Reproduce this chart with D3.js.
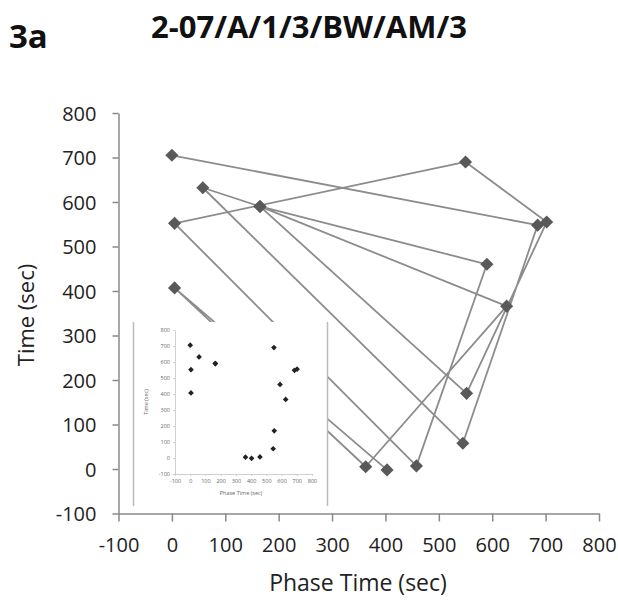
<!DOCTYPE html>
<html><head><meta charset="utf-8">
<script src="https://cdn.jsdelivr.net/npm/d3@7"></script>
<style>body{margin:0;background:#fff}</style>
</head><body><svg id="c" width="618" height="603"></svg>
<script>
// Data rows in recorded order (consecutive rows are joined by a line)
const phaseTime = [0, 685, 545, 58, 165, 552, 702, 550, 5, 458, 590, 165, 627, 363, 5, 403];
const timeSec   = [705, 548, 58, 632, 590, 170, 555, 690, 552, 7, 460, 590, 366, 5, 407, -2];
const xTickValues = [-100, 0, 100, 200, 300, 400, 500, 600, 700, 800];
const yTickValues = [-100, 0, 100, 200, 300, 400, 500, 600, 700, 800];
const chartTitle = "2-07/A/1/3/BW/AM/3";
const panelLabel = "3a";
const xTitle = "Phase Time (sec)";
const yTitle = "Time (sec)";

const rows = phaseTime.map((p, i) => ({x: p, y: timeSec[i]}));
const svg = d3.select("#c");
const font = "'Open Sans', sans-serif";
const fmt = d => String(d);

svg.append("rect").attr("width", 618).attr("height", 603).attr("fill", "#fff");

// titles
svg.append("text").attr("x", 9).attr("y", 48).text(panelLabel)
  .attr("font-family", font).attr("font-weight", 700).attr("font-size", 33).attr("fill", "#111");
svg.append("text").attr("x", 309).attr("y", 38).attr("text-anchor", "middle").text(chartTitle)
  .attr("font-family", font).attr("font-weight", 700).attr("font-size", 31).attr("fill", "#111");

// main scales
const x = d3.scaleLinear().domain([-100, 800]).range([118.5, 599]);
const y = d3.scaleLinear().domain([-100, 800]).range([513.5, 113]);

const axisColor = "#8a8a8a";
const gx = svg.append("g").attr("transform", `translate(0,${y(-100)})`)
  .call(d3.axisBottom(x).tickValues(xTickValues).tickSize(8).tickSizeOuter(0).tickPadding(16).tickFormat(fmt));
const gy = svg.append("g").attr("transform", `translate(${x(-100)},0)`)
  .call(d3.axisLeft(y).tickValues(yTickValues).tickSize(6).tickSizeOuter(0).tickPadding(16).tickFormat(fmt));
[gx, gy].forEach(g => {
  g.select(".domain").attr("stroke", axisColor).attr("stroke-width", 1.5);
  g.selectAll(".tick line").attr("stroke", axisColor).attr("stroke-width", 1.5);
  g.selectAll(".tick text").attr("font-family", font).attr("font-size", 20).attr("fill", "#222");
});
gy.selectAll(".tick text").attr("dy", "0.35em");

svg.append("text").attr("x", 358).attr("y", 591).attr("text-anchor", "middle").text(xTitle)
  .attr("font-family", font).attr("font-size", 23).attr("fill", "#222");
svg.append("text").attr("transform", "translate(34,315) rotate(-90)").attr("text-anchor", "middle").text(yTitle)
  .attr("font-family", font).attr("font-size", 22).attr("fill", "#222");

// connecting lines
const line = d3.line().x(d => x(d.x)).y(d => y(d.y));
svg.append("path").datum(rows).attr("d", line)
  .attr("fill", "none").attr("stroke", "#8c8c8c").attr("stroke-width", 1.8).attr("stroke-linejoin", "round");

// diamond markers
const diamond = d3.symbol().type(d3.symbolSquare).size(86);
svg.append("g").selectAll("path").data(rows).join("path")
  .attr("d", diamond)
  .attr("transform", d => `translate(${x(d.x)},${y(d.y)}) rotate(45)`)
  .attr("fill", "#595959");

// inset
const inset = svg.append("g");
inset.append("rect").attr("x", 133).attr("y", 322).attr("width", 194).attr("height", 186).attr("fill", "#fff");
inset.append("line").attr("x1", 133.5).attr("x2", 133.5).attr("y1", 322).attr("y2", 506).attr("stroke", "#bbb").attr("stroke-width", 1.5);
inset.append("line").attr("x1", 327.5).attr("x2", 327.5).attr("y1", 322).attr("y2", 506).attr("stroke", "#bbb").attr("stroke-width", 1.5);

const ix = d3.scaleLinear().domain([-100, 800]).range([175, 312]);
const iy = d3.scaleLinear().domain([-100, 800]).range([474, 330]);
const igx = inset.append("g").attr("transform", `translate(0,${iy(-100)})`)
  .call(d3.axisBottom(ix).tickValues(xTickValues).tickSize(2).tickSizeOuter(0).tickPadding(3).tickFormat(fmt));
const igy = inset.append("g").attr("transform", `translate(${ix(-100)},0)`)
  .call(d3.axisLeft(iy).tickValues(yTickValues).tickSize(2).tickSizeOuter(0).tickPadding(3).tickFormat(fmt));
[igx, igy].forEach(g => {
  g.select(".domain").attr("stroke", "#c4c4c4").attr("stroke-width", 0.8);
  g.selectAll(".tick line").attr("stroke", "#c4c4c4").attr("stroke-width", 0.8);
  g.selectAll(".tick text").attr("font-family", font).attr("font-size", 5.5).attr("fill", "#666");
});
inset.append("text").attr("x", 241).attr("y", 495).attr("text-anchor", "middle").text(xTitle)
  .attr("font-family", font).attr("font-size", 5.5).attr("fill", "#666");
inset.append("text").attr("transform", "translate(148,402) rotate(-90)").attr("text-anchor", "middle").text(yTitle)
  .attr("font-family", font).attr("font-size", 5.5).attr("fill", "#666");

const smallDiamond = d3.symbol().type(d3.symbolSquare).size(16);
inset.append("g").selectAll("path").data(rows).join("path")
  .attr("d", smallDiamond)
  .attr("transform", d => `translate(${ix(d.x)},${iy(d.y)}) rotate(45)`)
  .attr("fill", "#222");
</script>
</body></html>
